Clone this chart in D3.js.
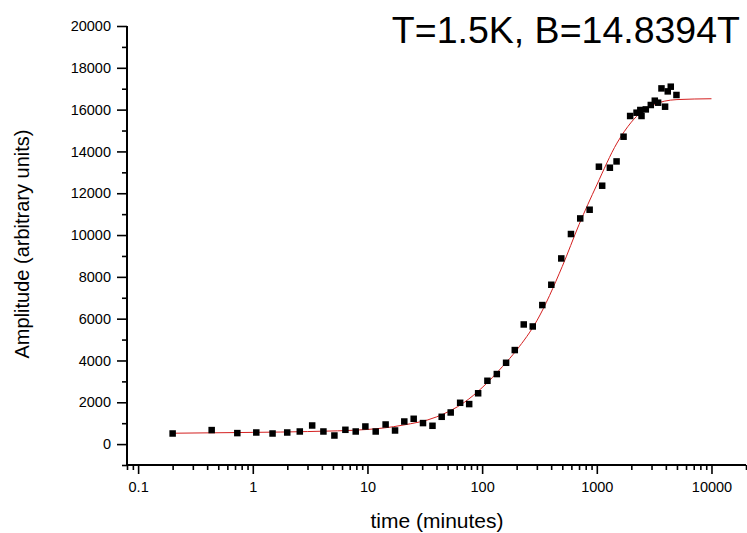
<!DOCTYPE html>
<html>
<head>
<meta charset="utf-8">
<script src="https://cdn.jsdelivr.net/npm/d3@7"></script>
<style>
  html, body { margin: 0; padding: 0; background: #ffffff; }
  svg { display: block; font-family: "Liberation Sans", Arial, sans-serif; }
</style>
</head>
<body>
<svg id="chart" width="747" height="533"></svg>
<script>
// Measured amplitude versus elapsed time
const timeMin = [0.2, 0.438, 0.733, 1.073, 1.487, 1.997, 2.57, 3.295, 4.13, 5.15,
  6.42, 7.9, 9.59, 11.8, 14.4, 17.4, 20.95, 25.3, 30.5, 36.9,
  44.4, 53.2, 64.3, 77.1, 92.3, 111.2, 134.3, 161.8, 192.6, 230.6,
  276.3, 334.8, 401.1, 490, 595, 717, 866, 1043, 1114, 1300,
  1487, 1711, 1953, 2221, 2454, 2396, 2675, 2957, 3204, 3424,
  3939, 3664, 4157, 4415, 4949];
const amplitude = [507, 670, 526, 555, 507, 555, 603, 890, 603, 411,
  684, 603, 842, 603, 938, 651, 1081, 1211, 1005, 876,
  1306, 1512, 1976, 1914, 2431, 3029, 3350, 3890, 4498, 5723,
  5627, 6651, 7622, 8881, 10049, 10795, 11211, 13269, 12360, 13221,
  13522, 14704, 15695, 15853, 15695, 15982, 16011, 16221, 16427, 16331,
  16140, 17015, 16872, 17097, 16700];

// Fitted curve, sampled
const fitTime = [0.2, 1, 3, 10, 20, 40, 70, 100, 150, 200, 300, 500, 700,
  1000, 1500, 2000, 3000, 5000, 10000];
const fitAmplitude = [520, 560, 600, 700, 900, 1300, 2000, 2700, 3700, 4500, 5900, 8500, 10500,
  12400, 14400, 15400, 16200, 16480, 16520];

// Axis ticks
const xMajorTicks = [0.1, 1, 10, 100, 1000, 10000];
const yMajorTicks = [0, 2000, 4000, 6000, 8000, 10000, 12000, 14000, 16000, 18000, 20000];

const titleText = "T=1.5K, B=14.8394T";
const xTitle = "time (minutes)";
const yTitle = "Amplitude (arbitrary units)";

const svg = d3.select("#chart");
const plotLeft = 127, plotRight = 746, plotTop = 26, plotBottom = 465;

const x = d3.scaleLog().domain([0.08, 20000]).range([plotLeft, plotRight]);
const y = d3.scaleLinear().domain([-1000, 20000]).range([plotBottom, plotTop]);

// minor ticks: 2..9 within each decade, inside the domain
const xMinorTicks = [];
for (let e = -2; e <= 4; e++) {
  for (let k = 2; k <= 9; k++) {
    const v = +(k * Math.pow(10, e)).toPrecision(6);
    if (v >= 0.08 && v <= 20000) xMinorTicks.push(v);
  }
}
const yMinorTicks = d3.range(-1000, 20001, 1000).filter(v => v % 2000 !== 0);

// red fit line
const line = d3.line()
  .x((d, i) => x(fitTime[i]))
  .y((d, i) => y(fitAmplitude[i]))
  .curve(d3.curveMonotoneX);
svg.append("path")
  .attr("d", line(fitTime))
  .attr("fill", "none")
  .attr("stroke", "#d42020")
  .attr("stroke-width", 1);

// data points as squares
const sq = 6.5;
svg.append("g").selectAll("rect")
  .data(timeMin)
  .join("rect")
  .attr("x", (d) => x(d) - sq / 2)
  .attr("y", (d, i) => y(amplitude[i]) - sq / 2)
  .attr("width", sq)
  .attr("height", sq)
  .attr("fill", "#000");

// x axis
const gxMinor = svg.append("g").attr("transform", `translate(0,${plotBottom})`)
  .call(d3.axisBottom(x).tickValues(xMinorTicks).tickSize(5).tickFormat(""));
const gx = svg.append("g").attr("transform", `translate(0,${plotBottom})`)
  .call(d3.axisBottom(x).tickValues(xMajorTicks).tickSize(9).tickPadding(8)
    .tickFormat(d => String(d)));

// y axis
const gyMinor = svg.append("g").attr("transform", `translate(${plotLeft},0)`)
  .call(d3.axisLeft(y).tickValues(yMinorTicks).tickSize(5).tickFormat(""));
const gy = svg.append("g").attr("transform", `translate(${plotLeft},0)`)
  .call(d3.axisLeft(y).tickValues(yMajorTicks).tickSize(10).tickPadding(6)
    .tickFormat(d => String(d)));

[gxMinor, gx, gyMinor, gy].forEach(g => {
  g.select(".domain").attr("stroke", "#000").attr("stroke-width", 2);
  g.selectAll(".tick line").attr("stroke", "#000").attr("stroke-width", 1.6);
  g.selectAll(".tick text")
    .attr("fill", "#000")
    .style("font-family", '"Liberation Sans", Arial, sans-serif')
    .style("font-size", "14.5px");
});
// axis paths without end caps
gx.select(".domain").attr("d", `M${plotLeft},0H${plotRight}`);
gxMinor.select(".domain").attr("d", `M${plotLeft},0H${plotRight}`);
gy.select(".domain").attr("d", `M0,${plotTop}V${plotBottom}`);
gyMinor.select(".domain").attr("d", `M0,${plotTop}V${plotBottom}`);

// titles
svg.append("text")
  .attr("x", 740).attr("y", 43)
  .attr("text-anchor", "end")
  .style("font-size", "37.5px")
  .attr("fill", "#000")
  .text(titleText);

svg.append("text")
  .attr("x", 437).attr("y", 528)
  .attr("text-anchor", "middle")
  .style("font-size", "21px")
  .attr("fill", "#000")
  .text(xTitle);

svg.append("text")
  .attr("transform", "translate(29,244) rotate(-90)")
  .attr("text-anchor", "middle")
  .style("font-size", "20px")
  .attr("fill", "#000")
  .text(yTitle);
</script>
</body>
</html>
